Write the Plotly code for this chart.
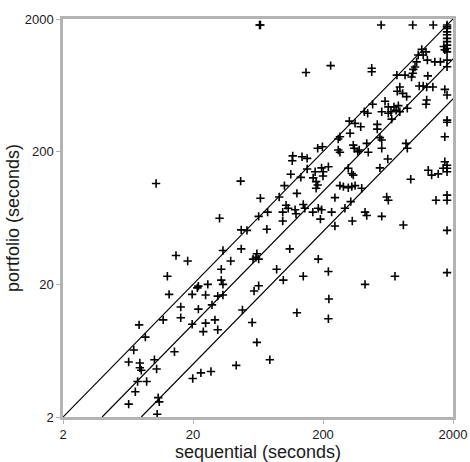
import plotly.graph_objects as go

# sequential (x) and portfolio (y) run times in seconds
sequential = [
    14.8, 18.2, 12.7, 13.1, 19.7, 16.1, 16.1, 11.8, 7.7, 19.7,
    8.6, 7.0, 14.4, 6.4, 7.8, 10.1, 7.8, 8.0, 10.5, 7.5,
    8.8, 7.2, 10.8, 11.0, 6.4, 10.6, 8.2, 19.9,
    32, 64, 98, 191, 47, 52, 74, 34, 47, 39,
    62, 58, 64, 61, 111, 184, 33, 88, 141, 99,
    33, 34, 22, 21.6, 26, 25, 31, 34, 64, 59,
    22, 28, 48, 126, 25, 29.5, 24, 31, 57, 62,
    78, 43, 23, 27.5,
    247, 336, 434, 566, 830, 1800, 220, 421, 716, 1800, 222, 220,
    65, 66, 148, 46.5, 10.4, 66, 75, 92, 101, 113,
    117, 116, 138, 151, 151, 135, 126, 104, 108, 122,
    124, 141, 145, 98, 167, 184, 182, 198, 174, 195,
    168, 177, 182, 177, 195,
    560, 980, 1410,
    1800, 1800, 1800, 1800, 1800, 1800, 1800, 1800, 1800, 1800, 1700, 1730,
    229, 474, 474, 1150, 1240, 1080, 1180, 1270, 1050, 1020,
    990, 980, 1450, 1600, 1800, 1800, 740, 855, 960, 1280,
    780, 745, 820, 880, 1100, 1180, 1255, 1400, 1730, 1800,
    1255, 1240, 600, 482, 636, 703, 760, 636, 667, 730,
    780, 890, 566, 416, 441, 675, 1800, 1800, 319, 353,
    390, 523, 523, 323, 270, 262, 548, 566, 1730, 262,
    270, 342, 348, 370, 380, 434, 446, 566, 870, 890,
    630, 548, 220, 201, 313, 333, 342, 200, 270, 287,
    313, 333, 353, 397, 1730, 1800, 1800, 1800, 1290, 1370,
    1540, 1680, 946, 247, 295, 327, 233, 618, 636, 1480,
    1800, 1800, 421,
]
portfolio = [
    33, 30, 23, 16.8, 16.8, 13.5, 11.2, 10.8, 9.9, 10.0,
    8.0, 6.4, 6.2, 5.2, 5.1, 5.4, 4.7, 4.5, 4.6, 3.7,
    3.7, 3.1, 2.8, 2.6, 2.5, 2.1, 2.0, 3.9,
    63, 65, 60, 62, 51.5, 51, 52, 36, 37, 30,
    34, 31, 31, 32, 37, 31, 26, 26, 23, 21.5,
    21.5, 20, 19.4, 18.8, 20, 16.6, 16.3, 16.6, 19.5, 17.8,
    13, 14, 12.8, 12.2, 10.2, 10.8, 8.8, 9.1, 10.3, 7.3,
    5.4, 4.9, 4.3, 4.4,
    55, 60, 66, 65, 56, 51, 25, 20, 23, 24.5, 15.5, 11,
    1800, 1800, 790, 120, 115, 89, 70, 91, 111, 135,
    186, 171, 183, 178, 148, 128, 97, 79, 75, 73,
    68, 80, 75, 70, 70, 75, 212, 218, 141, 151,
    127, 119, 112, 106, 73,
    1800, 1800, 1800,
    1800, 1750, 1700, 1600, 1520, 1430, 1350, 1270, 1200, 1130, 1240, 1170,
    890, 850, 800, 1180, 1130, 1070, 1070, 980, 950, 870,
    835, 780, 950, 950, 980, 873, 755, 755, 730, 745,
    615, 570, 550, 520, 625, 625, 615, 615, 590, 535,
    490, 455, 480, 455, 435, 435, 445, 390, 400, 410,
    400, 425, 400, 400, 390, 352, 346, 333, 340, 327,
    308, 321, 296, 275, 259, 249, 255, 245, 259, 206,
    198, 224, 212, 200, 206, 231, 198, 212, 231, 212,
    176, 151, 154, 141, 150, 137, 133, 131, 111, 109,
    107, 109, 111, 106, 168, 158, 150, 141, 145, 133,
    136, 150, 124, 90, 75, 84, 70, 91, 86, 86,
    94, 86, 70,
]

# reference lines portfolio = sequential / ratio
ratios = [1, 2, 4]
axis_min, axis_max = 2, 2000
tick_vals = [2, 20, 200, 2000]
tick_text = ["2", "20", "200", "2000"]

frame = "#b3b3b3"
font = "Liberation Sans, Arial, sans-serif"
text_color = "#1a1a1a"

fig = go.Figure()
for r in ratios:
    fig.add_trace(go.Scatter(
        x=[axis_min * r, axis_max], y=[axis_min, axis_max / r],
        mode="lines", line=dict(color="black", width=1.2),
        showlegend=False, hoverinfo="skip"))

fig.add_trace(go.Scatter(
    x=sequential, y=portfolio, mode="markers",
    marker=dict(symbol="cross-thin", size=6, line=dict(color="black", width=1.6), color="black"),
    showlegend=False, cliponaxis=False))

axis_common = dict(
    type="log", range=[0.30103, 3.30103],
    tickvals=tick_vals, ticktext=tick_text,
    showgrid=False, zeroline=False,
    showline=True, linecolor=frame, linewidth=2.5, mirror=True,
    ticks="outside", ticklen=4, tickcolor=frame, tickwidth=1,
    tickfont=dict(family=font, size=13, color=text_color),
    automargin=False,
)

fig.update_layout(
    width=470, height=462,
    margin=dict(l=63, r=17, t=19, b=45),
    paper_bgcolor="white", plot_bgcolor="white",
    font=dict(family=font),
    xaxis=dict(**axis_common,
               title=dict(text="sequential (seconds)", font=dict(family=font, size=18, color=text_color), standoff=2)),
    yaxis=dict(**axis_common,
               title=dict(text="portfolio (seconds)", font=dict(family=font, size=18, color=text_color), standoff=1)),
)

# remove the browser's default 8px body margin so the figure fills the window exactly
fig.write_html(
    "out.html",
    config={"displayModeBar": False},
    post_script="document.body.style.margin='0';document.body.style.overflow='hidden';",
)
